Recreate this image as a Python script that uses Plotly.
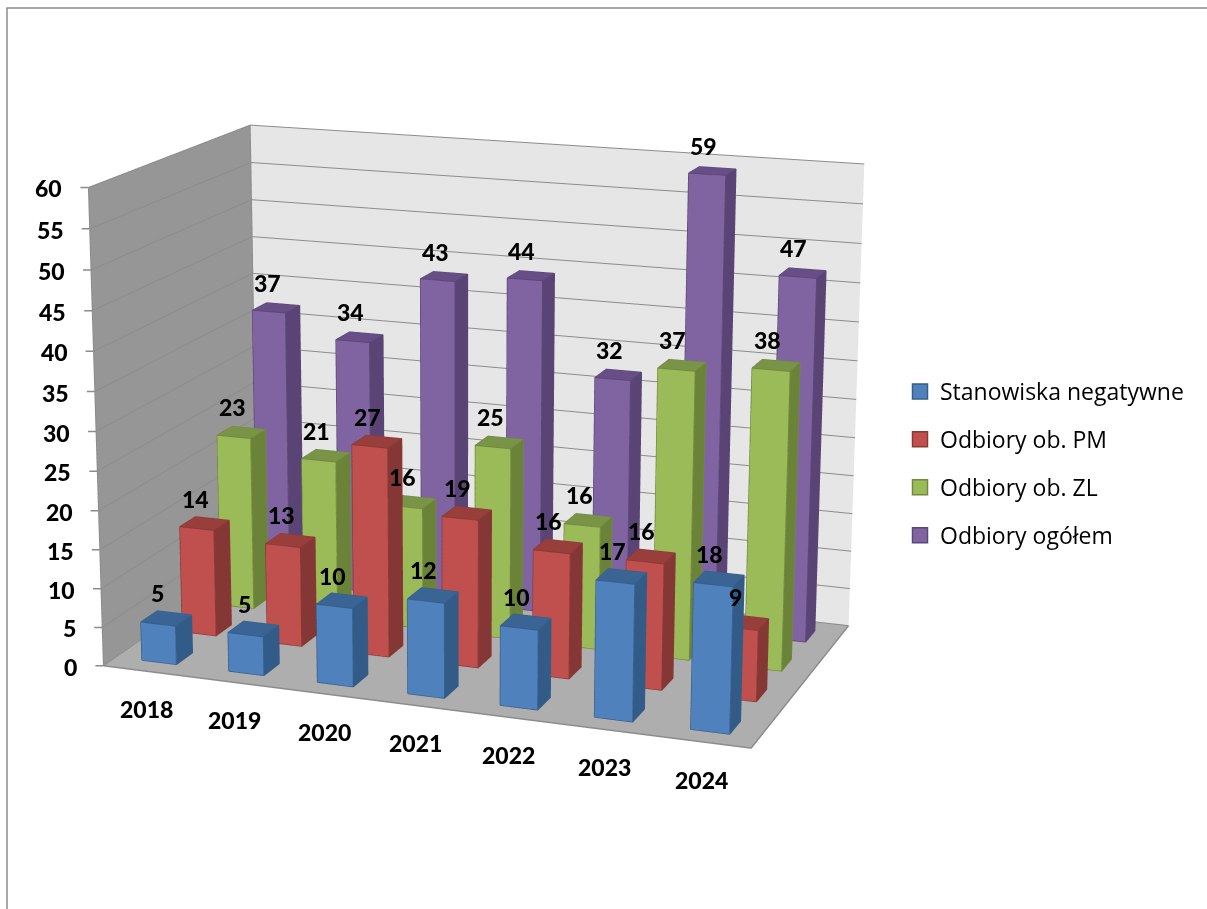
import plotly.graph_objects as go

years = ["2018", "2019", "2020", "2021", "2022", "2023", "2024"]
stanowiska = [5, 5, 10, 12, 10, 17, 18]
pm = [14, 13, 27, 19, 16, 16, 9]
zl = [23, 21, 16, 25, 16, 37, 38]
ogolem = [37, 34, 43, 44, 32, 59, 47]
z_ticks = list(range(0, 65, 5))
names = ["Stanowiska negatywne", "Odbiory ob. PM", "Odbiory ob. ZL", "Odbiory ogółem"]
series = [stanowiska, pm, zl, ogolem]
front = ["#4F81BD", "#C0504D", "#9BBB59", "#8064A2"]
side = ["#335B88", "#843735", "#6B8339", "#5A4475"]
topc = ["#3A6494", "#983F3C", "#7A9447", "#674E86"]
edge = ["#385D8A", "#8C3836", "#71893F", "#5C4776"]

W, H = 1207, 909
# The reference has a long-lens perspective; plotly's field of view is fixed, so the
# figure is made taller than the window and the window shows its middle part.
FH = 2650
TOP = -870
SCENE_W = 920
BAR = 0.4
BOLD = dict(family="Lato", size=23, color="#000000", weight=900)


def frac_y(y):
    return 1 - (y - TOP) / FH


def box(x0, x1, y0, y1, z1):
    return ([x0, x1, x1, x0, x0, x1, x1, x0], [y0, y0, y1, y1, y0, y0, y1, y1], [0, 0, 0, 0, z1, z1, z1, z1])


fig = go.Figure()
annos = []
for j, (vals, fc, sc, tc, ec) in enumerate(zip(series, front, side, topc, edge)):
    X, Y, Z, I, K, L, C = [], [], [], [], [], [], []
    lx, ly, lz = [], [], []
    for i, v in enumerate(vals):
        xs, ys, zs = box(i + .5 - BAR / 2, i + .5 + BAR / 2, j + .5 - BAR / 2, j + .5 + BAR / 2, v)
        n = len(X)
        X += xs
        Y += ys
        Z += zs
        faces = [((0, 1, 5), fc), ((0, 5, 4), fc), ((1, 2, 6), sc), ((1, 6, 5), sc), ((4, 5, 6), tc), ((4, 6, 7), tc),
                 ((3, 2, 6), sc), ((3, 6, 7), sc), ((0, 3, 7), sc), ((0, 7, 4), sc), ((0, 1, 2), sc), ((0, 2, 3), sc)]
        for (a, b, c), col in faces:
            I.append(n + a)
            K.append(n + b)
            L.append(n + c)
            C.append(col)
        for path in [[0, 1, 5, 4, 0], [1, 2, 6, 5], [4, 7, 6]]:
            lx += [xs[q] for q in path] + [None]
            ly += [ys[q] for q in path] + [None]
            lz += [zs[q] for q in path] + [None]
        annos.append(dict(x=i + .5, y=j + .5, z=v, text=str(v), showarrow=False, yshift=25, xshift=-9, font=BOLD))
    fig.add_trace(go.Mesh3d(x=X, y=Y, z=Z, i=I, j=K, k=L, facecolor=C, flatshading=True, showlegend=False, hoverinfo="skip",
                            lighting=dict(ambient=1, diffuse=0, specular=0, fresnel=0, roughness=1)))
    fig.add_trace(go.Scatter3d(x=lx, y=ly, z=lz, mode="lines", line=dict(color=ec, width=2), showlegend=False, hoverinfo="skip"))

for i, year in enumerate(years):
    annos.append(dict(x=i + .5, y=0, z=0, text=year, showarrow=False, yshift=-38, xshift=0, font=BOLD))
for t in z_ticks:
    annos.append(dict(x=0, y=0, z=t, text=str(t), showarrow=False, xanchor="right", xshift=-24, yshift=-1, font=BOLD))
    annos.append(dict(x=0, y=0, z=t, text=" ", showarrow=True, arrowhead=0, arrowwidth=1.5, arrowcolor="#8C8C8C",
                      ax=-10, ay=0, standoff=0, font=dict(size=2)))

fig.add_trace(go.Scatter3d(x=[0, 7, 7], y=[0, 0, 4], z=[0, 0, 0], mode="lines", line=dict(color="#8C8C8C", width=3),
                           showlegend=False, hoverinfo="skip"))
fig.add_trace(go.Scatter3d(x=[0, 0, 0, 0], y=[0, 0, 4, 4], z=[0, 60, 60, 0], mode="lines", line=dict(color="#8C8C8C", width=2),
                           showlegend=False, hoverinfo="skip"))

for name, fc, ec in zip(names, front, edge):
    fig.add_trace(go.Scatter(x=[None], y=[None], mode="markers", name=name, legendgroup=name,
                             marker=dict(symbol="square", size=15, color=fc, line=dict(color=ec, width=1.5))))

axis_common = dict(showspikes=False, zeroline=False, title=dict(text=""), showticklabels=False)
fig.update_layout(
    width=W, height=FH, margin=dict(l=0, r=0, t=0, b=0), paper_bgcolor="#ffffff", plot_bgcolor="rgba(0,0,0,0)",
    xaxis=dict(visible=False), yaxis=dict(visible=False),
    legend=dict(x=900 / W, y=frac_y(370), xanchor="left", yanchor="top", font=dict(family="Open Sans", size=23, color="#000000"),
                tracegroupgap=15, bgcolor="rgba(0,0,0,0)"),
    scene=dict(
        domain=dict(x=[0, SCENE_W / W], y=[0, 1]),
        aspectmode="manual", aspectratio=dict(x=1.37917, y=0.78760, z=1),
        camera=dict(eye=dict(x=2.16584, y=-5.99183, z=1.67629), center=dict(x=-0.03761, y=-0.03727, z=-0.07906),
                    up=dict(x=0.00113, y=0.00042, z=1), projection=dict(type="perspective")),
        xaxis=dict(range=[0, 7], showgrid=False, showbackground=True, backgroundcolor="#969696", ticks="", **axis_common),
        yaxis=dict(range=[0, 4], showgrid=False, showbackground=True, backgroundcolor="#E6E6E6", ticks="", **axis_common),
        zaxis=dict(range=[0, 60], dtick=5, showgrid=True, gridcolor="#8C8C8C", gridwidth=2, showbackground=True, backgroundcolor="#AEAEAE",
                   ticks="", **axis_common),
        annotations=annos,
    ),
    shapes=[dict(type="rect", xref="paper", yref="paper", x0=7 / W, x1=1.2, y0=-0.2, y1=frac_y(8), line=dict(color="#8C8C8C", width=1.5))],
)
post = ("document.documentElement.style.overflow='hidden';document.body.style.overflow='hidden';"
        "document.body.style.margin='0';document.body.style.height='%dpx';"
        "var g=document.getElementById('{plot_id}');g.style.position='absolute';g.style.left='0';g.style.top='%dpx';") % (H, TOP)
fig.write_html("out.html", config=dict(displayModeBar=False), post_script=post)
